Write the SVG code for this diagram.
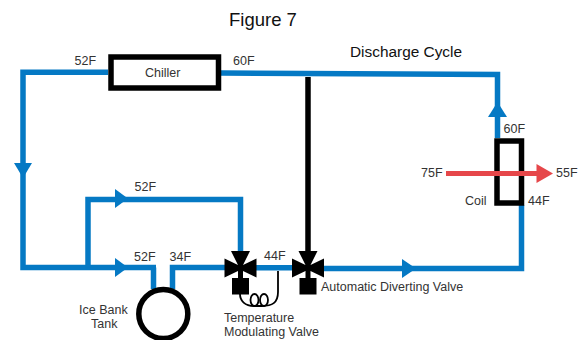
<svg xmlns="http://www.w3.org/2000/svg" width="583" height="340" viewBox="0 0 583 340">
<defs>
<style>
text{font-family:"Liberation Sans",Arial,sans-serif;font-size:12.5px;fill:#333}
.t{fill:#111}
.pipe{fill:none;stroke:#0579c4;stroke-width:5.5;stroke-linejoin:miter}
.ah{fill:#0579c4}
.blk{fill:none;stroke:#000;stroke-width:5.5}
.v{fill:#000}
.thin{fill:none;stroke:#000;stroke-width:1.8}
</style>
<g id="valve-shape">
<path class="v" d="M-9.500,-17 H9.500 L2.500,-3 L16,-9.500 V9.500 L2.500,3 V10 H8.500 V26.500 H-8.500 V10 H-2.500 V3 L-16,9.500 V-9.500 L-2.500,-3 Z"/>
</g>
</defs>
<rect width="583" height="340" fill="#fff"/>
<text class="t" x="229" y="26" style="font-size:18.5px">Figure 7</text>
<text class="t" x="350" y="57" style="font-size:15.4px">Discharge Cycle</text>
<g id="connectors">
<path class="pipe" d="M108,72.300 H23 V267.500 H156 M153.500,267.500 V289 M172.500,289 V267.500 H226"/>
<path class="pipe" d="M88,267.500 V199.500 H240.500 V255"/>
<path class="pipe" d="M221,73 L497.500,74.500 V138"/>
<path class="pipe" d="M254,267.700 H295"/>
<path class="pipe" d="M324,268.500 H521.500 V205"/>
<path d="M308,77 V255" fill="none" stroke="#000" stroke-width="5.500"/>
<path class="ah" d="M14,163 H32 L23,178 Z"/>
<path class="ah" d="M115,189 L128,198.500 L115,208 Z"/>
<path class="ah" d="M115,258 L128,267.500 L115,277 Z"/>
<path class="ah" d="M402,259 L416,268.500 L402,278 Z"/>
<path class="ah" d="M488,117 H507 L497.500,102 Z"/>
<path class="thin" d="M278,271 V292 C278,303 272,306 262,306 H254 C245,306 240,301 240,294"/>
<ellipse class="thin" cx="254.500" cy="300" rx="4" ry="6"/>
<ellipse class="thin" cx="264" cy="300" rx="4" ry="6"/>
</g>
<g id="chiller">
<rect class="blk" x="111" y="57" width="107.500" height="31" fill="#fff"/>
<text x="145" y="77">Chiller</text>
<text x="74.500" y="65">52F</text>
<text x="233" y="65">60F</text>
</g>
<g id="coil">
<rect class="blk" x="497" y="141" width="24.500" height="62"/>
<text x="465" y="205">Coil</text>
<text x="528" y="205">44F</text>
<text x="503.500" y="133">60F</text>
</g>
<g id="air-flow">
<path d="M446,171 H536.500 V164 L553,173.500 L536.500,183 V176 H446 Z" fill="#e6474a"/>
<text x="421" y="177">75F</text>
<text x="556" y="177">55F</text>
</g>
<g id="ice-bank-tank">
<circle class="blk" cx="163.300" cy="314" r="24.500"/>
<text x="79" y="314">Ice Bank</text>
<text x="91" y="328">Tank</text>
<text x="134" y="261">52F</text>
<text x="169.500" y="261">34F</text>
</g>
<g id="bypass-label">
<text x="134.500" y="191">52F</text>
</g>
<g id="temperature-modulating-valve">
<use href="#valve-shape" x="240.500" y="268"/>
<text x="264" y="260">44F</text>
<text x="224" y="322">Temperature</text>
<text x="224" y="336">Modulating Valve</text>
</g>
<g id="automatic-diverting-valve">
<use href="#valve-shape" x="308" y="268"/>
<text x="321" y="291">Automatic Diverting Valve</text>
</g>
</svg>
